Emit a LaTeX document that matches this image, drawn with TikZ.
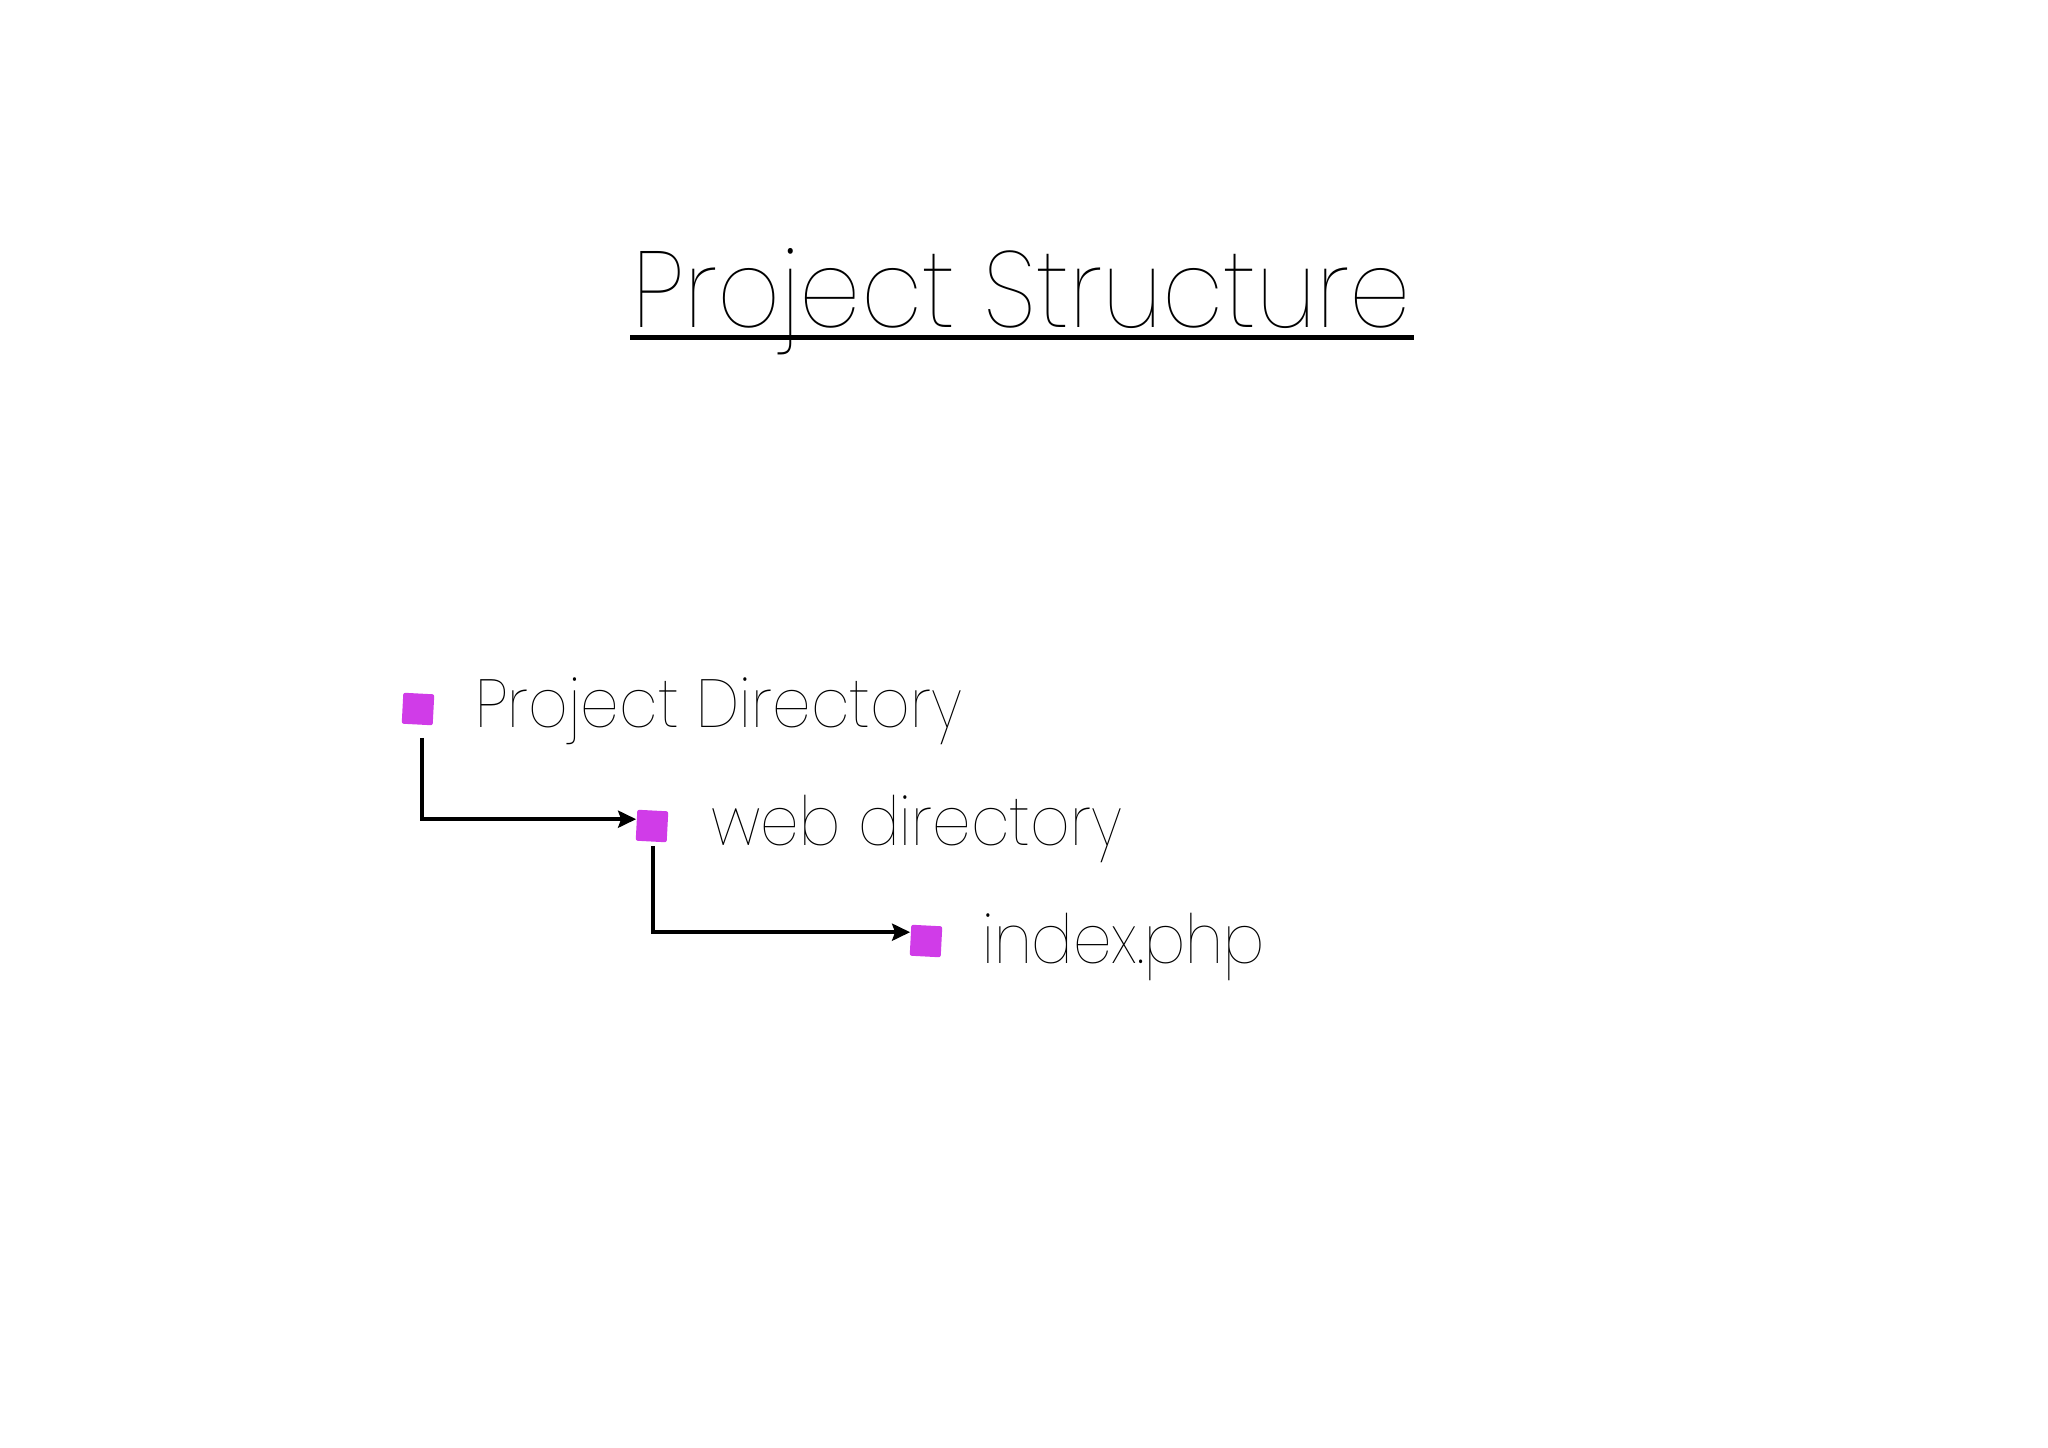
\documentclass[tikz,border=0pt]{standalone}
\usepackage{fontspec}
\setmainfont{Poppins}[UprightFont={* Thin},FakeStretch=0.905]
\usetikzlibrary{arrows.meta,calc}
\definecolor{folder}{RGB}{208,60,232}
\begin{document}
\begin{tikzpicture}[x=0.5pt,y=0.5pt,
  sq/.style={fill=folder,minimum width=15.5pt,minimum height=15.5pt,inner sep=0pt,rounded corners=1pt,rotate=-3},
  lbl/.style={anchor=base west,inner sep=0pt,font=\fontsize{34}{40}\selectfont},
  conn/.style={line width=2.1pt,-{Stealth[length=9pt,width=8.5pt,inset=1.5pt]}}]
\fill[white] (0,0) rectangle (2048,-1447);
\useasboundingbox (0,0) rectangle (2048,-1447);
\node[anchor=base west,inner sep=0pt,font=\fontsize{54}{60}\selectfont] (title) at (632,-327) {Project Structure};
\draw[line width=2.5pt] ([shift={(-1pt,-5pt)}]title.base west) -- ([shift={(1pt,-5pt)}]title.base east);
\node[sq] (p) at (418,-709) {};
\node[lbl] (pt) at (475,-727) {Project Directory};
\node[sq] (w) at (652,-826) {};
\node[lbl] (wt) at (711,-845) {web directory};
\node[sq] (i) at (926,-941) {};
\node[lbl] (it) at (982,-963) {index.php};
\draw[conn] ([shift={(2.5pt,-6.5pt)}]p.south) |- ([yshift=3pt]w.west);
\draw[conn] ([shift={(1pt,-2pt)}]w.south) |- ([yshift=4pt]i.west);
\end{tikzpicture}
\end{document}
